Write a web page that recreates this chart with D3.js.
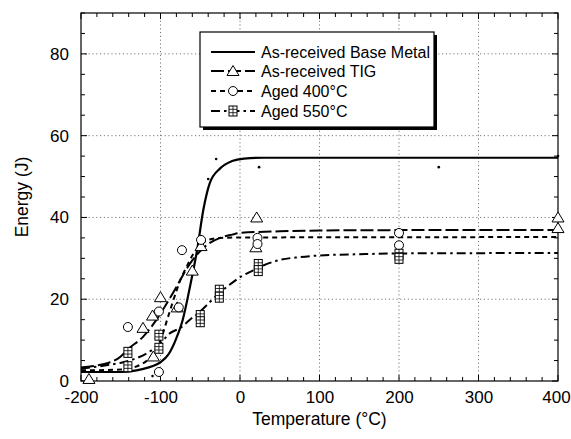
<!DOCTYPE html>
<html>
<head>
<meta charset="utf-8">
<script src="https://cdn.jsdelivr.net/npm/d3@7"></script>
<style>
  body { margin: 0; background: #fff; }
  svg { font-family: "Liberation Sans", Arial, sans-serif; }
</style>
</head>
<body>
<svg width="571" height="439"></svg>
<script>
// fitted curves
const baseCurve = [[-200,2.2],[-150,2.2],[-130,2.6],[-117,3.2],[-100,4.6],[-90,6.5],[-80,10.5],[-72,15],[-63,23],[-54,32],[-46,42],[-38,48.4],[-25,52],[-10,53.8],[5,54.4],[30,54.6],[400,54.6]];
const tigCurve = [[-200,3.3],[-180,3.8],[-166,4.4],[-150,6],[-142,7.6],[-122,10.8],[-105,15],[-92,19],[-80,23],[-70,26.5],[-60,29.5],[-50,31.8],[-40,33.5],[-25,35],[-10,35.8],[0,36.2],[50,36.6],[100,36.8],[200,36.9],[400,36.9]];
const aged400Curve = [[-200,2.6],[-150,2.8],[-125,4],[-112,6],[-100,10],[-90,16],[-80,22],[-75,24.7],[-67,28],[-59,31],[-50,33],[-42,34.4],[-25,35],[0,35.1],[400,35.2]];
const aged550Curve = [[-200,3],[-170,3.8],[-147,4.6],[-130,5.6],[-117,6.8],[-100,9.3],[-88,11.7],[-75,13],[-63,15],[-50,17],[-38,19.3],[-20,22.5],[-10,24],[1,25.5],[16,27],[30,28.3],[50,29.6],[75,30.3],[100,30.7],[150,31],[200,31.2],[400,31.3]];

// measured points
const basePts = [[-110,1.2],[-40,49.4],[-30,54.3],[24,52.3],[250,52.3],[400,55]];
const tigPts = [[-190,0.5],[-122,13],[-110,16],[-109,6],[-100,20.5],[-79,18],[-60,27],[-49,33],[20,32.7],[21,40],[400,40],[400,37.4]];
const aged400Pts = [[-141,13.2],[-102,17],[-102,2.2],[-77,18],[-73,32],[-49,34.5],[22,35],[22,33.5],[200,36.2],[200,33.2]];
const aged550Pts = [[-141,7],[-141,3.5],[-102,11.2],[-102,8],[-50,16],[-50,14.5],[-26,22.2],[-26,20.5],[23,28.5],[23,27],[200,31],[200,30]];

const xTicks = [-200, -100, 0, 100, 200, 300, 400];
const yTicks = [0, 20, 40, 60, 80];
const legendLabels = ["As-received Base Metal", "As-received TIG", "Aged 400°C", "Aged 550°C"];

const svg = d3.select("svg");
const pLeft = 81, pRight = 558, pTop = 13, pBottom = 381;

const x = d3.scaleLinear().domain([-200, 400]).range([pLeft, pRight]);
const y = d3.scaleLinear().domain([0, 90]).range([pBottom, pTop]);

// grid
const grid = svg.append("g").attr("stroke", "#555").attr("stroke-width", 0.8).attr("stroke-dasharray", "1.2,2.6");
grid.selectAll(".gx").data(xTicks.slice(1, -1)).enter().append("line")
  .attr("x1", d => x(d)).attr("x2", d => x(d)).attr("y1", pTop).attr("y2", pBottom);
grid.selectAll(".gy").data(yTicks.slice(1)).enter().append("line")
  .attr("x1", pLeft).attr("x2", pRight).attr("y1", d => y(d)).attr("y2", d => y(d));

// axes with inward ticks
const minorX = d3.range(-200, 401, 20), minorY = d3.range(0, 91, 5);
const ax = svg.append("g").attr("stroke", "#000").attr("stroke-width", 1);
ax.selectAll(".tb").data(minorX).enter().append("line")
  .attr("x1", d => x(d)).attr("x2", d => x(d)).attr("y1", pBottom)
  .attr("y2", d => pBottom - (d % 100 === 0 ? 6 : 4));
ax.selectAll(".tt").data(minorX).enter().append("line")
  .attr("x1", d => x(d)).attr("x2", d => x(d)).attr("y1", pTop)
  .attr("y2", d => pTop + (d % 100 === 0 ? 6 : 4));
ax.selectAll(".tl").data(minorY).enter().append("line")
  .attr("y1", d => y(d)).attr("y2", d => y(d)).attr("x1", pLeft)
  .attr("x2", d => pLeft + (d % 20 === 0 ? 6 : 4));
ax.selectAll(".tr").data(minorY).enter().append("line")
  .attr("y1", d => y(d)).attr("y2", d => y(d)).attr("x1", pRight)
  .attr("x2", d => pRight - (d % 20 === 0 ? 6 : 4));
svg.append("rect").attr("x", pLeft).attr("y", pTop).attr("width", pRight - pLeft).attr("height", pBottom - pTop)
  .attr("fill", "none").attr("stroke", "#000").attr("stroke-width", 1.2);

const xAxis = svg.append("g").attr("transform", `translate(0,${pBottom})`)
  .call(d3.axisBottom(x).tickValues(xTicks).tickFormat(d => String(d)).tickSize(0).tickPadding(10));
const yAxis = svg.append("g").attr("transform", `translate(${pLeft},0)`)
  .call(d3.axisLeft(y).tickValues(yTicks).tickFormat(d => String(d)).tickSize(0).tickPadding(12));
[xAxis, yAxis].forEach(a => {
  a.select(".domain").remove();
  a.selectAll("text").attr("font-size", 17).attr("font-family", "Liberation Sans, Arial, sans-serif").attr("fill", "#000");
});
// keep the last label inside the page
xAxis.selectAll("text").filter(d => d === 400).attr("dx", -2);

svg.append("text").attr("x", (pLeft + pRight) / 2).attr("y", 425).attr("text-anchor", "middle")
  .attr("font-size", 17.5).text("Temperature (°C)");
svg.append("text").attr("transform", `translate(28,${(pTop + pBottom) / 2}) rotate(-90)`)
  .attr("text-anchor", "middle").attr("font-size", 17.5).text("Energy (J)");

// curves
const line = d3.line().x(d => x(d[0])).y(d => y(d[1])).curve(d3.curveMonotoneX);
const styles = [
  { data: baseCurve, dash: null, w: 2.2 },
  { data: tigCurve, dash: "13,4", w: 2 },
  { data: aged400Curve, dash: "5,4", w: 2 },
  { data: aged550Curve, dash: "9,4,2.5,4", w: 2 }
];
styles.forEach(s => {
  svg.append("path").datum(s.data).attr("d", line).attr("fill", "none")
    .attr("stroke", "#000").attr("stroke-width", s.w).attr("stroke-dasharray", s.dash);
});

// markers
const triangle = (g, cx, cy) => g.append("path")
  .attr("d", `M${cx},${cy - 5.5}L${cx + 6},${cy + 4.5}L${cx - 6},${cy + 4.5}Z`)
  .attr("fill", "#fff").attr("stroke", "#000").attr("stroke-width", 1);
const circle = (g, cx, cy) => g.append("circle").attr("cx", cx).attr("cy", cy).attr("r", 4.5)
  .attr("fill", "#fff").attr("stroke", "#000").attr("stroke-width", 1);
const gridSq = (g, cx, cy) => {
  g.append("rect").attr("x", cx - 4).attr("y", cy - 5).attr("width", 8).attr("height", 10)
    .attr("fill", "#fff").attr("stroke", "#000").attr("stroke-width", 1);
  g.append("path").attr("d", `M${cx},${cy - 5}V${cy + 5}M${cx - 4},${cy - 1.7}H${cx + 4}M${cx - 4},${cy + 1.7}H${cx + 4}`)
    .attr("stroke", "#000").attr("stroke-width", 0.8);
};

const mk = svg.append("g");
basePts.forEach(d => mk.append("circle").attr("cx", x(d[0])).attr("cy", y(d[1])).attr("r", 1.3).attr("fill", "#000"));
tigPts.forEach(d => triangle(mk, x(d[0]), y(d[1])));
aged400Pts.forEach(d => circle(mk, x(d[0]), y(d[1])));
aged550Pts.forEach(d => gridSq(mk, x(d[0]), y(d[1])));

// legend
const lg = svg.append("g");
lg.append("rect").attr("x", 203).attr("y", 35).attr("width", 234).attr("height", 95).attr("fill", "#000");
lg.append("rect").attr("x", 200).attr("y", 32).attr("width", 234).attr("height", 95)
  .attr("fill", "#fff").attr("stroke", "#000").attr("stroke-width", 1.2);
const rowsY = [52, 71, 91, 111];
legendLabels.forEach((t, i) => {
  const ry = rowsY[i];
  lg.append("line").attr("x1", 211).attr("x2", 255).attr("y1", ry).attr("y2", ry)
    .attr("stroke", "#000").attr("stroke-width", styles[i].w).attr("stroke-dasharray", styles[i].dash);
  lg.append("text").attr("x", 261).attr("y", ry + 6).attr("font-size", 16).text(t);
});
triangle(lg, 233, 71);
circle(lg, 233, 91);
gridSq(lg, 233, 111);
</script>
</body>
</html>
